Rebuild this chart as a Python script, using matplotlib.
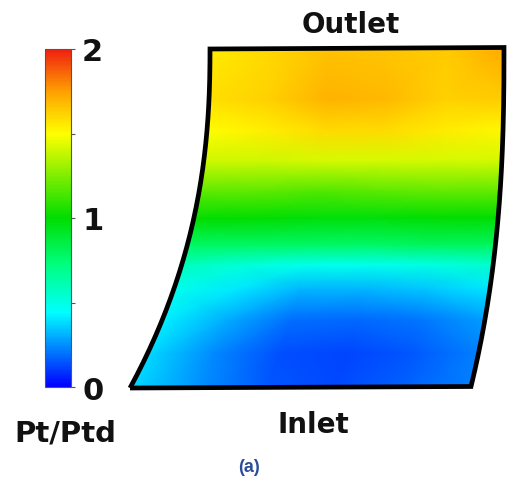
import numpy as np
import matplotlib.pyplot as plt
from matplotlib.colors import LinearSegmentedColormap, Normalize
from matplotlib.cm import ScalarMappable
from matplotlib.path import Path
from matplotlib.patches import PathPatch

# Pt/Ptd field, rows go from inlet (s=0) to outlet (s=1), columns left -> right
row_pos = [0.0, 0.10, 0.20, 0.29, 0.36, 0.42, 0.50, 0.58, 0.67, 0.76, 0.85, 1.0]
col_pos = [0.0, 0.2, 0.4, 0.6, 0.8, 1.0]
pt_ratio = [
    [0.38, 0.25, 0.15, 0.13, 0.17, 0.22],
    [0.38, 0.24, 0.14, 0.12, 0.15, 0.22],
    [0.42, 0.30, 0.19, 0.18, 0.21, 0.28],
    [0.48, 0.40, 0.32, 0.32, 0.35, 0.40],
    [0.58, 0.52, 0.48, 0.48, 0.50, 0.55],
    [0.78, 0.78, 0.78, 0.78, 0.80, 0.80],
    [1.00, 1.00, 0.98, 0.98, 1.00, 1.00],
    [1.18, 1.18, 1.16, 1.18, 1.20, 1.20],
    [1.40, 1.40, 1.42, 1.42, 1.42, 1.42],
    [1.50, 1.54, 1.60, 1.60, 1.55, 1.52],
    [1.58, 1.62, 1.70, 1.68, 1.62, 1.64],
    [1.55, 1.60, 1.66, 1.65, 1.64, 1.72],
]
cbar_ticks = [0, 1, 2]

cmap = LinearSegmentedColormap.from_list("rainbow_cfd", [
    (0.0, "#0000ff"), (0.11, "#0080ff"), (0.22, "#00ffff"), (0.36, "#00ff80"),
    (0.5, "#00dd00"), (0.75, "#ffff00"), (0.87, "#ffa500"), (1.0, "#f02010")])
norm = Normalize(0, 2)

fig = plt.figure(figsize=(5.1, 4.81), dpi=100)
ax = fig.add_axes([0, 0, 1, 1])
ax.set_xlim(0, 510)
ax.set_ylim(481, 0)
ax.axis("off")


# blade passage shape (pixel coords), curved left/right edges
def edges(s):
    s = np.asarray(s)
    t = 1 - s
    y = 389 - s * 339
    xl = 210 - 80 * t ** 2.3
    xr = 504 - 33 * t ** 2.5
    return xl, xr, y


S, U = np.meshgrid(row_pos, col_pos, indexing="ij")
xl, xr, yy = edges(S)
X = xl + U * (xr - xl)
Y = yy + U * (-1.5)
mesh = ax.pcolormesh(X, Y, np.array(pt_ratio), cmap=cmap, norm=norm,
                     shading="gouraud")

# outline
sf = np.linspace(0, 1, 80)
l_x, r_x, e_y = edges(sf)
px = np.concatenate([l_x, r_x[::-1], [l_x[0]]])
py = np.concatenate([e_y, (e_y - 1.5)[::-1], [e_y[0]]])
path = Path(np.column_stack([px, py]))
mesh.set_clip_path(PathPatch(path, transform=ax.transData))
ax.add_patch(PathPatch(path, facecolor="none", edgecolor="black",
                       linewidth=3.4, joinstyle="miter"))

ax.text(351, 33, "Outlet", ha="center", va="baseline", fontsize=20,
        fontweight="bold", color="#111111")
ax.text(313, 433, "Inlet", ha="center", va="baseline", fontsize=20,
        fontweight="bold", color="#111111")
ax.text(65, 442, "Pt/Ptd", ha="center", va="baseline", fontsize=21,
        fontweight="bold", color="#111111")
ax.text(249, 472, "(a)", ha="center", va="baseline", fontsize=13,
        fontweight="bold", color="#2a4d9b", family="Liberation Sans")

# colorbar
cax = fig.add_axes([45 / 510, 1 - 388 / 481, 26 / 510, 338 / 481])
cb = fig.colorbar(ScalarMappable(norm=norm, cmap=cmap), cax=cax,
                  ticks=cbar_ticks)
cb.outline.set_edgecolor("#555555")
cb.outline.set_linewidth(0.8)
cax.set_yticks([0.5, 1.5], minor=True)
cax.tick_params(which="both", length=3, width=0.8, color="#555555", pad=5)
cax.set_yticklabels([str(t) for t in cbar_ticks], fontsize=22,
                    fontweight="bold", color="#111111")

fig.savefig("out.png", dpi=100)
